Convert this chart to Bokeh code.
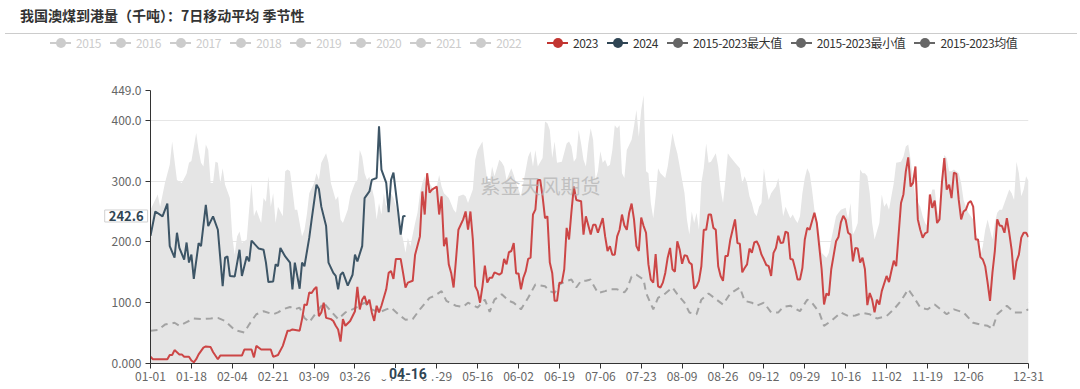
from bokeh.plotting import figure
from bokeh.models import Range1d, FixedTicker, Label, Div
from bokeh.layouts import column
from bokeh.embed import file_html
from bokeh.resources import INLINE
import pandas as pd

FONT = "Noto Sans CJK SC"

title_text = "我国澳煤到港量（千吨）：7日移动平均 季节性"
watermark = "紫金天风期货"
tick_labels = ["01-01", "01-18", "02-04", "02-21", "03-09", "03-26", "04-12", "04-29",
               "05-16", "06-02", "06-19", "07-06", "07-23", "08-09", "08-26", "09-12",
               "09-29", "10-16", "11-02", "11-19", "12-06", "12-31"]
y_ticks = [0, 100, 200, 300, 400, 449]
y_tick_labels = ["0.000", "100.0", "200.0", "300.0", "400.0", "449.0"]
off_years = ["2015", "2016", "2017", "2018", "2019", "2020", "2021", "2022"]
on_series = ["2023", "2024", "2015-2023最大值", "2015-2023最小值", "2015-2023均值"]
on_colors = ["#c23531", "#2f4554", "#666666", "#666666", "#666666"]
pointer_date = "04-16"
pointer_value = 242.6

# day index (0 = 01-01, leap-year calendar) and values
max_day = [0, 3, 4, 6, 8, 9, 11, 13, 15, 16,
           17, 19, 20, 21, 22, 23, 24, 25, 26, 27,
           28, 29, 30, 31, 33, 34, 35, 36, 37, 38,
           40, 41, 42, 43, 44, 46, 47, 48, 49, 50,
           51, 52, 53, 55, 56, 57, 58, 59, 60, 61,
           62, 63, 64, 65, 66, 68, 69, 70, 71, 73,
           74, 75, 77, 78, 79, 80, 82, 83, 84, 85,
           86, 87, 88, 89, 90, 91,
           93, 94, 95, 96, 97, 98, 100, 101, 103, 104,
           105, 106, 107, 108, 110, 111, 112, 113, 114, 115,
           116, 118, 119, 120, 121, 122, 124, 126, 127, 128,
           130, 131, 132, 134, 135, 136, 138, 139, 140, 141,
           142, 143, 144, 145, 146, 147, 148, 150, 151, 152,
           154, 155, 157, 158, 159, 160, 161, 163, 164, 165,
           166, 167, 168, 169, 171, 173, 174, 175, 176, 177,
           178, 179, 180, 181,
           182, 183, 184, 185, 186, 187, 188, 189, 190, 191,
           192, 193, 194, 195, 196, 197, 198, 200, 201, 202,
           203, 204, 205, 206, 207, 208, 209, 210, 211, 212,
           214, 215, 216, 217, 218, 219, 220, 221, 222, 223,
           224, 225, 226, 227, 228, 229, 230, 231, 232, 233,
           235, 236, 237, 238, 239, 240, 241, 242, 243, 245,
           246, 247, 248, 249, 250, 251, 252, 253, 254, 255,
           256, 257, 258, 260, 261, 262, 263, 264, 265, 266,
           267, 268, 269, 270, 271, 272, 273, 274,
           275, 276, 278, 279, 281, 282, 283, 285, 286, 287,
           289, 290, 291, 292, 293, 294, 295, 296, 297, 298,
           299, 300, 301, 303, 304, 305, 306, 307, 308, 309,
           310, 312, 313, 314, 315, 316, 317, 318, 320, 321,
           322, 323, 324, 325, 326, 327, 328, 329, 330, 331,
           332, 333, 334, 336, 337, 338, 339, 340, 342, 343,
           344, 345, 346, 347, 348, 349, 350, 351, 352, 353,
           354, 355, 357, 358, 359, 360, 361, 362, 363, 364,
           365]
max_val = [253, 278, 258, 297, 327, 365, 302, 297, 312, 330,
           333, 379, 351, 330, 324, 360, 351, 297, 297, 332,
           330, 297, 321, 294, 272, 209, 179, 209, 217, 198,
           204, 253, 297, 242, 253, 231, 272, 266, 308, 258,
           280, 231, 258, 242, 316, 319, 316, 286, 253, 253,
           231, 209, 220, 245, 280, 297, 313, 302, 330, 346,
           330, 297, 269, 275, 237, 231, 253, 275, 286, 297,
           302, 351, 340, 313, 302, 307,
           272, 237, 264, 245, 280, 258, 280, 272, 245, 220,
           204, 182, 207, 193, 231, 248, 280, 297, 308, 286,
           297, 283, 291, 310, 291, 280, 272, 253, 248, 275,
           278, 275, 264, 286, 335, 351, 365, 330, 302, 297,
           324, 308, 321, 335, 331, 324, 302, 321, 310, 297,
           275, 297, 340, 349, 324, 351, 324, 338, 398, 395,
           384, 338, 365, 330, 332, 362, 365, 357, 332, 338,
           384, 362, 335, 324,
           362, 387, 368, 302, 316, 349, 330, 335, 324, 327,
           351, 392, 387, 392, 313, 305, 351, 368, 390, 417,
           373, 417, 441, 316, 313, 264, 239, 275, 321, 313,
           305, 324, 351, 379, 360, 346, 324, 302, 280, 237,
           212, 250, 231, 248, 220, 297, 321, 362, 330, 332,
           346, 324, 286, 264, 302, 346, 340, 335, 330, 321,
           297, 308, 297, 275, 264, 248, 242, 258, 264, 321,
           291, 269, 280, 291, 305, 275, 242, 258, 248, 239,
           245, 237, 231, 242, 280, 305, 321, 313,
           286, 253, 215, 182, 174, 182, 204, 242, 248, 253,
           256, 237, 264, 212, 220, 231, 319, 313, 313, 308,
           280, 231, 204, 231, 278, 258, 264, 253, 275, 297,
           330, 332, 340, 357, 360, 335, 302, 272, 258, 242,
           231, 226, 269, 286, 286, 253, 237, 308, 343, 338,
           316, 316, 319, 313, 297, 269, 258, 248, 237, 215,
           204, 177, 193, 220, 237, 220, 204, 231, 248, 253,
           253, 264, 286, 280, 269, 332, 313, 275, 286, 308,
           300]

y2023_day = [0, 1, 7, 8, 9, 10, 12, 13, 14, 16,
             17, 18, 19, 20, 22, 23, 25, 26, 28, 29,
             38, 39, 42, 43, 44, 46, 50, 51, 53, 55,
             57, 58, 59, 62, 63, 64, 65, 66, 67, 68,
             69, 70, 71, 72, 73, 75, 76, 77, 78, 79,
             80, 81, 83, 85, 86, 87, 88, 89, 90, 91,
             92, 93, 94, 95, 96, 98, 99, 100, 101, 102,
             104, 105, 106, 107, 109, 110, 112, 113, 114, 115,
             116, 117, 119, 120, 121, 122, 123, 124, 125, 126,
             127, 128, 130, 131, 132, 133, 134, 135, 136, 137,
             138, 139, 140, 141, 142, 143, 145, 146, 147, 148,
             149, 150, 151, 152, 153, 154, 155, 156, 157, 158,
             159, 160, 161, 162, 163, 164, 165, 166, 167, 168,
             169, 170, 171, 172, 173, 174, 175, 176, 177, 179,
             180, 181, 183,
             184, 185, 186, 188, 189, 190, 191, 192, 193, 194,
             195, 196, 197, 198, 199, 200, 201, 202, 203, 204,
             205, 206, 207, 208, 209, 210, 211, 212, 213, 214,
             215, 216, 217, 218, 219, 220, 221, 222, 223, 224,
             225, 226, 227, 228, 229, 230, 231, 232, 233, 234,
             235, 236, 237, 238, 239, 240, 241, 242, 243, 244,
             245, 246, 247, 248, 249, 250, 251, 252, 253, 254,
             255, 256, 257, 258, 259, 260, 261, 262, 263, 264,
             265, 266, 267, 268, 269, 270, 271, 272, 273, 274,
             276, 277, 279, 280, 281, 282, 283, 285, 286, 287,
             288, 289, 290, 291, 292, 293, 294, 295, 296, 297,
             298, 299, 300, 301, 302, 303, 304, 306, 307, 308,
             309, 310, 312, 313, 314, 315, 316, 317, 318, 319,
             320, 321, 322, 323, 324, 325, 326, 327, 328, 329,
             330, 331, 332, 333, 334, 335, 336, 337, 338, 339,
             340, 341, 342, 343, 344, 345, 346, 347, 348, 349,
             350, 351, 352, 353, 354, 355, 356, 357, 358, 359,
             360, 361, 362, 363, 364, 365]
y2023_val = [11, 7, 7, 14, 14, 22, 15, 15, 11, 11,
             5, 2, 7, 15, 26, 28, 27, 19, 7, 13,
             13, 23, 23, 10, 29, 23, 23, 11, 14, 29,
             54, 54, 56, 54, 73, 97, 96, 117, 116, 122,
             126, 78, 84, 100, 75, 73, 70, 62, 56, 36,
             73, 62, 70, 86, 126, 89, 105, 111, 97, 105,
             84, 70, 95, 84, 95, 122, 149, 152, 139, 172,
             172, 149, 125, 133, 136, 179, 209, 283, 245, 313,
             281, 286, 291, 245, 275, 193, 207, 163, 149, 125,
             171, 220, 237, 250, 220, 250, 204, 127, 119, 100,
             127, 161, 133, 141, 141, 150, 146, 149, 172, 163,
             183, 185, 198, 148, 148, 122, 141, 152, 172, 174,
             245, 253, 302, 302, 275, 239, 242, 166, 149, 103,
             103, 133, 133, 155, 223, 204, 250, 291, 269, 267,
             212, 242, 212,
             228, 228, 215, 239, 209, 185, 193, 179, 179, 209,
             220, 245, 227, 220, 248, 263, 237, 193, 185, 240,
             226, 215, 163, 138, 133, 180, 127, 125, 133, 149,
             174, 190, 155, 151, 201, 187, 164, 178, 177, 166,
             163, 123, 127, 136, 160, 220, 220, 245, 245, 223,
             220, 160, 144, 136, 177, 177, 203, 220, 237, 198,
             197, 150, 157, 163, 189, 182, 199, 201, 193, 179,
             171, 162, 160, 144, 182, 190, 210, 198, 199, 217,
             215, 172, 171, 156, 138, 138, 157, 204, 223, 220,
             248, 231, 155, 97, 115, 112, 155, 201, 208, 232,
             243, 236, 215, 212, 168, 190, 189, 166, 174, 155,
             96, 116, 105, 84, 105, 97, 119, 144, 134, 152,
             169, 160, 264, 278, 316, 339, 291, 297, 324, 237,
             220, 207, 214, 216, 278, 256, 268, 231, 237, 297,
             338, 286, 294, 272, 314, 312, 269, 237, 250, 253,
             264, 267, 258, 204, 204, 175, 171, 160, 133, 103,
             149, 185, 237, 227, 226, 215, 239, 215, 187, 138,
             168, 179, 207, 215, 215, 208]

y2024_day = [0, 2, 5, 7, 8, 10, 11, 12, 14, 15,
             16, 17, 18, 20, 21, 23, 24, 26, 28, 30,
             31, 32, 33, 35, 37, 38, 40, 41, 42, 45,
             47, 48, 49, 51, 52, 53, 54, 56, 58, 59,
             60, 62, 63, 64, 66, 67, 69, 70, 71, 73,
             74, 76, 77, 78, 79, 80, 82, 84, 85, 86,
             88, 89, 91, 92, 94, 95, 96, 98, 99, 100,
             101, 103, 104, 105, 106]
y2024_val = [210, 250, 242, 263, 193, 174, 215, 190, 171, 199,
             166, 179, 139, 198, 193, 261, 226, 242, 220, 127,
             174, 176, 144, 143, 187, 144, 176, 168, 202, 189,
             187, 166, 134, 135, 163, 160, 190, 176, 166, 122,
             166, 123, 166, 160, 207, 237, 294, 287, 258, 226,
             166, 149, 144, 122, 146, 150, 128, 146, 179, 168,
             193, 272, 283, 302, 305, 390, 319, 297, 249, 302,
             314, 248, 212, 242, 242.6]

mean_day = [0, 3, 6, 10, 12, 15, 18, 21, 25, 28,
            31, 35, 39, 41, 42, 44, 47, 51, 53, 55,
            58, 60, 62, 64, 66, 69, 72, 75, 78, 81,
            84, 87, 89, 92, 95, 98, 100, 103, 106, 109,
            112, 116, 118, 121, 123, 127, 130, 132, 136, 139,
            141, 143, 146, 149, 151, 154, 157, 160, 164, 166,
            168, 170, 173, 175, 177, 179, 181, 183, 184, 186,
            189, 191, 194, 197, 198, 200, 202, 205, 206, 209,
            211, 214, 217, 219, 222, 224, 227, 229, 232, 236,
            238, 241, 245, 247, 250, 252, 255, 258, 261, 263,
            266, 270, 273, 275, 278, 280, 283, 287, 290, 293,
            296, 299, 302, 306, 309, 312, 315, 317, 320, 323,
            326, 331, 334, 338, 342, 345, 348, 350, 352, 356,
            359, 362, 365]
mean_val = [54, 55, 64, 67, 62, 68, 74, 73, 74, 75,
            70, 55, 51, 64, 70, 81, 86, 81, 84, 89,
            93, 89, 92, 75, 68, 84, 100, 86, 73, 84,
            89, 95, 100, 89, 84, 89, 92, 81, 72, 73,
            89, 108, 111, 119, 103, 95, 93, 100, 92, 105,
            85, 105, 114, 103, 100, 89, 108, 130, 127, 119,
            116, 130, 136, 138, 125, 136, 136, 138, 130, 116,
            119, 122, 122, 117, 122, 143, 146, 138, 116, 89,
            108, 115, 125, 114, 100, 84, 81, 105, 115, 103,
            97, 115, 125, 103, 100, 95, 100, 84, 84, 93,
            95, 86, 105, 100, 84, 62, 70, 84, 78, 79,
            83, 81, 74, 78, 89, 103, 122, 111, 92, 89,
            97, 81, 89, 84, 67, 64, 62, 57, 81, 95,
            84, 84, 89]

assert len(max_day) == len(max_val)
assert len(y2023_day) == len(y2023_val)
assert len(y2024_day) == len(y2024_val)
assert len(mean_day) == len(mean_val)

base = pd.Timestamp("2024-01-01")
tick_days = [(pd.Timestamp("2024-" + t) - base).days for t in tick_labels]
pointer_day = (pd.Timestamp("2024-" + pointer_date) - base).days

W = 1072

# ---------- header: title, rule and legend (HTML) ----------
def legend_item(label, color, text_color):
    return (f'<span style="display:inline-flex;align-items:center;margin-right:9px;'
            f'color:{text_color};white-space:nowrap">'
            f'<span style="position:relative;display:inline-block;width:21px;height:10px;'
            f'margin-right:5px">'
            f'<span style="position:absolute;left:0;top:4px;width:21px;height:2px;'
            f'background:{color}"></span>'
            f'<span style="position:absolute;left:5.5px;top:0;width:10px;height:10px;'
            f'border-radius:50%;background:{color}"></span></span>'
            f'<span>{label}</span></span>')


items_off = "".join(legend_item(y, "#cccccc", "#cccccc") for y in off_years)
items_on = "".join(legend_item(s, c, "#333333") for s, c in zip(on_series, on_colors))
row_style = ("position:absolute;top:30px;height:16px;display:flex;align-items:center;"
             "font-size:12px;line-height:16px;letter-spacing:-0.4px")
header = Div(text=(
    f'<div style="position:relative;width:{W}px;height:48px;'
    f'font-family:\'{FONT}\',\'Noto Sans\',sans-serif">'
    f'<div style="position:absolute;left:15px;top:0;line-height:21px;font-size:14px;'
    f'font-weight:bold;color:#333;white-space:nowrap">{title_text}</div>'
    f'<div style="position:absolute;left:0;top:28px;width:{W}px;height:0;'
    f'border-top:1px solid #cccccc"></div>'
    f'<div style="{row_style};left:45px">{items_off}</div>'
    f'<div style="{row_style};left:542px">{items_on}</div>'
    f'</div>'), width=W, height=48)

# ---------- chart ----------
p = figure(width=W, height=325, x_range=Range1d(0, 365), y_range=Range1d(0, 449),
           output_backend="svg", toolbar_location=None, title=None,
           min_border_left=150, min_border_right=44, min_border_top=32, min_border_bottom=19)
p.outline_line_color = None

for ax in (p.xaxis[0], p.yaxis[0]):
    ax.axis_line_color = "#333333"
    ax.major_tick_line_color = "#333333"
    ax.minor_tick_line_color = None
    ax.major_tick_out = 5
    ax.major_tick_in = 0
    ax.major_label_text_font = FONT
    ax.major_label_text_font_size = "12px"
    ax.major_label_text_color = "#666666"
p.xaxis.ticker = FixedTicker(ticks=tick_days)
p.xaxis.major_label_overrides = {d: t for d, t in zip(tick_days, tick_labels)}
p.xaxis.major_label_standoff = 3
p.yaxis.ticker = FixedTicker(ticks=y_ticks)
p.yaxis.major_label_overrides = {v: t for v, t in zip(y_ticks, y_tick_labels)}
p.yaxis.major_label_standoff = 4
p.xgrid.grid_line_color = None
p.ygrid.grid_line_color = "#e6e6e6"

p.varea(x=max_day, y1=[0] * len(max_day), y2=max_val, fill_color="#e5e5e5")
p.line(mean_day, mean_val, line_color="#a3a3a3", line_width=2, line_dash="7 5")
p.line(y2023_day, y2023_val, line_color="#cc4646", line_width=2)
p.line(y2024_day, y2024_val, line_color="#3d5566", line_width=2)

p.add_layout(Label(x=390, y=178, x_units="screen", y_units="screen", text=watermark,
                   text_align="center", text_baseline="middle", text_font=FONT,
                   text_font_size="20px", text_color="#b0b0b0", text_alpha=0.7))

# axis-pointer labels (side panels, so they are not clipped to the frame)
p.add_layout(Label(x=-1.2, y=pointer_value, x_units="data", y_units="data",
                   text=f"{pointer_value}", text_align="right", text_baseline="middle",
                   text_font=FONT, text_font_size="13px", text_font_style="bold",
                   text_color="#2f4554", background_fill_color="white",
                   border_line_color="#d0d0d0", padding=(4, 1)), "left")
p.add_layout(Label(x=pointer_day + 1, y=-17, x_units="data", y_units="data",
                   text=pointer_date, text_align="center", text_baseline="middle",
                   text_font="Roboto", text_font_size="14px", text_font_style="bold",
                   text_color="#2f4554", background_fill_color="white", padding=(9, 0)),
             "above")

layout = column(header, p, spacing=0)
open("out.html", "w").write(file_html(layout, INLINE))
